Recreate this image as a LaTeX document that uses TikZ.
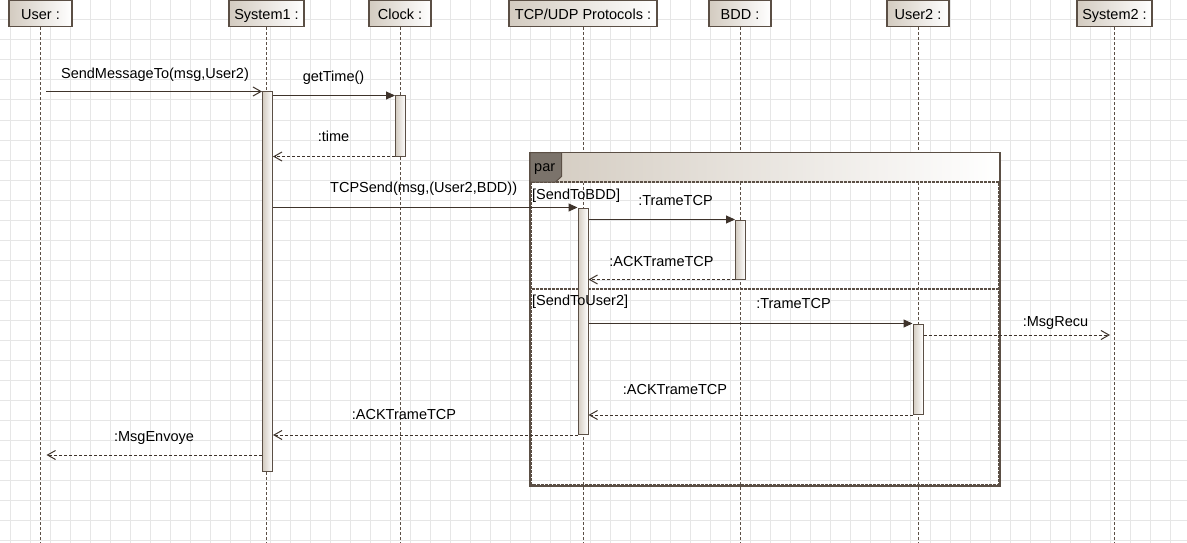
\documentclass[tikz,border=0pt]{standalone}
\usepackage{fontspec}
\setmainfont{Liberation Sans}
\usetikzlibrary{arrows.meta}
\definecolor{gridc}{HTML}{E6E6E6}
\definecolor{inkc}{HTML}{3E332B}
\definecolor{edgec}{HTML}{5B4F45}
\definecolor{tanc}{HTML}{D3CBC0}
\definecolor{tagc}{HTML}{7B736B}
\begin{document}
\begin{tikzpicture}[x=1pt,y=-1pt,
  font=\fontsize{14.5}{17}\selectfont,
  header/.style={draw=edgec, line width=1.1pt, left color=tanc, right color=white,
    minimum height=26pt, text height=14pt, text depth=2pt, inner sep=0pt},
  lifeline/.style={draw=edgec, line width=1pt, dash pattern=on 3pt off 2pt},
  actbar/.style={draw=edgec, line width=1pt, left color=tanc, right color=white,
    minimum width=10pt, inner sep=0pt},
  call/.style={draw=inkc, line width=1pt, -{Triangle[length=9pt,width=8pt]}},
  entry/.style={draw=inkc, line width=1pt, -{Straight Barb[length=8pt,width=9pt]}},
  reply/.style={draw=inkc, line width=1pt, dash pattern=on 3pt off 2pt,
    -{Straight Barb[length=8pt,width=9pt]}},
  msg/.style={inner sep=0pt, anchor=base, text=black},
  guard/.style={inner sep=0pt, anchor=base west, text=black},
  operand/.style={draw=edgec, line width=1.1pt, dash pattern=on 3pt off 1pt}]

\useasboundingbox (0,0) rectangle (1187,543);
\fill[white] (0,0) rectangle (1187,543);

% background grid
\foreach \x in {10,30,...,1180} \draw[gridc, line width=1pt] (\x,0) -- (\x,543);
\foreach \y in {20,40,...,540} \draw[gridc, line width=1pt] (0,\y) -- (1187,\y);

% participants
\node[header, minimum width=63pt] (user)  at (40.5,13.5)  {User :};
\node[header, minimum width=75pt] (sys1)  at (266.5,13.5) {System1 :};
\node[header, minimum width=62pt] (clock) at (400,13.5)   {Clock :};
\node[header, minimum width=148pt] (tcp)  at (583,13.5)   {TCP/UDP Protocols :};
\node[header, minimum width=62pt] (bdd)   at (740,13.5)   {BDD :};
\node[header, minimum width=62pt] (user2) at (918,13.5)   {User2 :};
\node[header, minimum width=75pt] (sys2)  at (1114.5,13.5) {System2 :};

% lifelines
\foreach \p in {user,sys1,clock,tcp,bdd,user2,sys2}
  \draw[lifeline] (\p.south) -- (\p.south |- 0,543);

% par combined fragment: header band, outer frame, operands
\shade[left color=tanc, right color=white] (530,152.5) rectangle (1000,182);
\draw[edgec, line width=1.3pt] (530,152.5) rectangle (1000,486);
\draw[operand] (531.5,182) rectangle (998.5,484.5);
\draw[operand] (531.5,289) -- (998.5,289);
\draw[edgec, fill=tagc, line width=1pt] (530,152.5) -- (561.5,152.5) -- (561.5,176.5)
  -- (555.5,182) -- (530,182) -- cycle;
\node[guard] (partag) at (534,171) {par};

% activation bars
\node[actbar, minimum height=379pt]   (s1bar)  at (267.5,281.5)  {};
\node[actbar, minimum height=60pt]    (clkbar) at (400.5,126)    {};
\node[actbar, minimum height=226.5pt] (tcpbar) at (583,321.25)   {};
\node[actbar, minimum height=59pt]    (bddbar) at (740.5,249.5)  {};
\node[actbar, minimum height=90.5pt]  (u2bar)  at (918,369.25)   {};

% operand guards
\node[guard] (g1) at (532,199) {[SendToBDD]};
\node[guard] (g2) at (532,305.5) {[SendToUser2]};

% messages
\draw[entry] ([xshift=5.5pt]user.south |- s1bar.north) -- (s1bar.north west);
\draw[call]  (s1bar.east |- clkbar.north) -- (clkbar.north west);
\draw[reply] (clkbar.south west) -- (s1bar.east |- clkbar.south);
\draw[call]  (s1bar.east |- tcpbar.north) -- (tcpbar.north west);
\draw[call]  (tcpbar.east |- bddbar.north) -- (bddbar.north west);
\draw[reply] (bddbar.south west) -- (tcpbar.east |- bddbar.south);
\draw[call]  (tcpbar.east |- u2bar.north) -- (u2bar.north west);
\draw[reply] (u2bar.east |- 0,335) -- ([xshift=-4.5pt]sys2.south |- 0,335);
\draw[reply] (u2bar.south west) -- (tcpbar.east |- u2bar.south);
\draw[reply] (tcpbar.south west) -- (s1bar.east |- tcpbar.south);
\draw[reply] (s1bar.west |- 0,455) -- ([xshift=6pt]user.south |- 0,455);

% message labels
\node[msg] (l1)  at (155,78)      {SendMessageTo(msg,User2)};
\node[msg] (l2)  at (333.5,81.5)  {getTime()};
\node[msg] (l3)  at (333.5,141)   {:time};
\node[guard] (l4) at (330,192.5)  {TCPSend(msg,(User2,BDD))};
\node[msg] (l5)  at (675.5,205)   {:TrameTCP};
\node[msg] (l6)  at (661.5,266)   {:ACKTrameTCP};
\node[msg] (l7)  at (793.5,308.5) {:TrameTCP};
\node[msg] (l8)  at (1055.5,326.5) {:MsgRecu};
\node[msg] (l9)  at (675,394)     {:ACKTrameTCP};
\node[msg] (l10) at (404,419)     {:ACKTrameTCP};
\node[msg] (l11) at (154,441.5)   {:MsgEnvoye};
\end{tikzpicture}
\end{document}
